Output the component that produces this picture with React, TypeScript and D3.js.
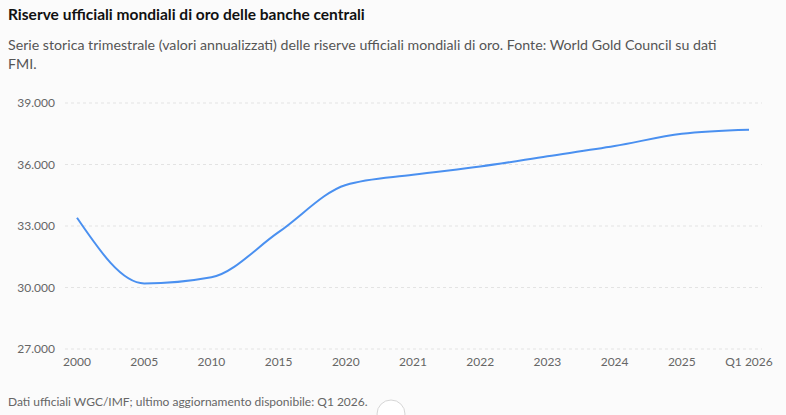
import React, { useEffect, useRef } from 'react';
import * as d3 from 'd3';

// Riserve ufficiali mondiali (tonnellate), valori annualizzati
const periods = ['2000', '2005', '2010', '2015', '2020', '2021', '2022', '2023', '2024', '2025', 'Q1 2026'];
const reserves = [33400, 30200, 30500, 32700, 35000, 35500, 35900, 36400, 36900, 37500, 37700];
const yTicks = [27000, 30000, 33000, 36000, 39000];

const W = 786;
const H = 415;
const FONT = 'Lato, "Noto Sans", sans-serif';

function App() {
  const ref = useRef<SVGSVGElement>(null);

  useEffect(() => {
    document.body.style.margin = '0';
    document.body.style.overflow = 'hidden';

    const svg = d3.select(ref.current);
    svg.selectAll('*').remove();

    svg.append('rect').attr('width', W).attr('height', H).attr('fill', '#fbfbfb');

    svg.append('text')
      .attr('x', 8).attr('y', 20)
      .attr('font-family', FONT).attr('font-size', 15.5).attr('font-weight', 700)
      .attr('fill', '#111')
      .text('Riserve ufficiali mondiali di oro delle banche centrali');

    const sub = svg.append('text')
      .attr('font-family', FONT).attr('font-size', 14.2).attr('fill', '#555');
    sub.append('tspan').attr('x', 8).attr('y', 50)
      .text('Serie storica trimestrale (valori annualizzati) delle riserve ufficiali mondiali di oro. Fonte: World Gold Council su dati');
    sub.append('tspan').attr('x', 8).attr('y', 69).text('FMI.');

    const x = d3.scalePoint<string>().domain(periods).range([77, 749]);
    const y = d3.scaleLinear().domain([27000, 39000]).range([349, 103]);
    const fmt = d3.formatLocale({ decimal: ',', thousands: '.', grouping: [3], currency: ['€', ''] }).format(',.0f');

    // griglia orizzontale tratteggiata
    svg.append('g')
      .selectAll('line')
      .data(yTicks)
      .join('line')
      .attr('x1', 65).attr('x2', 762)
      .attr('y1', d => y(d)).attr('y2', d => y(d))
      .attr('stroke', '#e3e3e3').attr('stroke-dasharray', '3 3');

    svg.append('g')
      .selectAll('text')
      .data(yTicks)
      .join('text')
      .attr('x', 55).attr('y', d => y(d)).attr('dy', '0.35em')
      .attr('text-anchor', 'end')
      .attr('font-family', FONT).attr('font-size', 12).attr('fill', '#666')
      .text(d => fmt(d));

    svg.append('g')
      .selectAll('text')
      .data(periods)
      .join('text')
      .attr('x', d => x(d)!).attr('y', 366)
      .attr('text-anchor', 'middle')
      .attr('font-family', FONT).attr('font-size', 12).attr('fill', '#666')
      .text(d => d);

    const line = d3.line<number>()
      .x((_, i) => x(periods[i])!)
      .y(d => y(d))
      .curve(d3.curveMonotoneX);

    svg.append('path')
      .datum(reserves)
      .attr('d', line)
      .attr('fill', 'none')
      .attr('stroke', '#4a90f0')
      .attr('stroke-width', 2);

    svg.append('text')
      .attr('x', 8).attr('y', 406)
      .attr('font-family', FONT).attr('font-size', 12).attr('fill', '#666')
      .text('Dati ufficiali WGC/IMF; ultimo aggiornamento disponibile: Q1 2026.');

    svg.append('circle')
      .attr('cx', 391).attr('cy', 414).attr('r', 14)
      .attr('fill', '#fff').attr('stroke', '#d6d6d6');
  }, []);

  return <svg ref={ref} width={W} height={H} style={{ display: 'block' }} />;
}

export default App;
